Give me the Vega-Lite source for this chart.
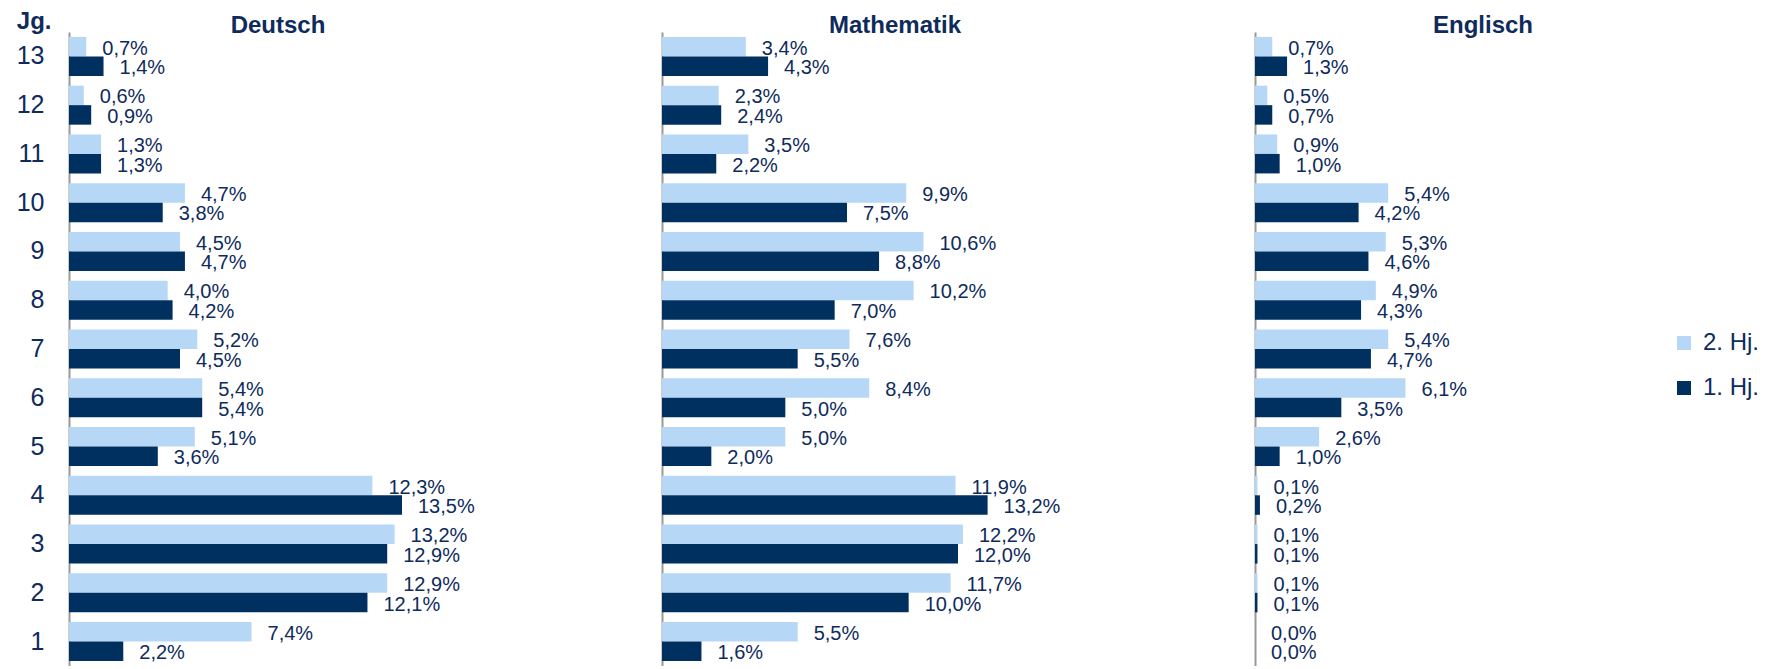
{
  "$schema": "https://vega.github.io/schema/vega-lite/v6.json",
  "padding": {"left": 16, "top": 9, "right": 0, "bottom": 0},
  "background": "white",
  "config": {
    "font": "Liberation Sans",
    "view": {"stroke": null},
    "locale": {"number": {"decimal": ",", "thousands": ".", "grouping": [3], "currency": ["", " €"]}},
    "title": {"fontSize": 24, "fontWeight": "bold", "color": "#0E2B5C", "baseline": "alphabetic", "offset": -6, "frame": "group"},
    "concat": {"spacing": 149}
  },
  "datasets": {
    "d": [
      {"Fach": "Deutsch", "Jg": 13, "Hj": "2. Hj.", "Anteil": 0.007},
      {"Fach": "Deutsch", "Jg": 13, "Hj": "1. Hj.", "Anteil": 0.014},
      {"Fach": "Deutsch", "Jg": 12, "Hj": "2. Hj.", "Anteil": 0.006},
      {"Fach": "Deutsch", "Jg": 12, "Hj": "1. Hj.", "Anteil": 0.009},
      {"Fach": "Deutsch", "Jg": 11, "Hj": "2. Hj.", "Anteil": 0.013},
      {"Fach": "Deutsch", "Jg": 11, "Hj": "1. Hj.", "Anteil": 0.013},
      {"Fach": "Deutsch", "Jg": 10, "Hj": "2. Hj.", "Anteil": 0.047},
      {"Fach": "Deutsch", "Jg": 10, "Hj": "1. Hj.", "Anteil": 0.038},
      {"Fach": "Deutsch", "Jg": 9, "Hj": "2. Hj.", "Anteil": 0.045},
      {"Fach": "Deutsch", "Jg": 9, "Hj": "1. Hj.", "Anteil": 0.047},
      {"Fach": "Deutsch", "Jg": 8, "Hj": "2. Hj.", "Anteil": 0.040},
      {"Fach": "Deutsch", "Jg": 8, "Hj": "1. Hj.", "Anteil": 0.042},
      {"Fach": "Deutsch", "Jg": 7, "Hj": "2. Hj.", "Anteil": 0.052},
      {"Fach": "Deutsch", "Jg": 7, "Hj": "1. Hj.", "Anteil": 0.045},
      {"Fach": "Deutsch", "Jg": 6, "Hj": "2. Hj.", "Anteil": 0.054},
      {"Fach": "Deutsch", "Jg": 6, "Hj": "1. Hj.", "Anteil": 0.054},
      {"Fach": "Deutsch", "Jg": 5, "Hj": "2. Hj.", "Anteil": 0.051},
      {"Fach": "Deutsch", "Jg": 5, "Hj": "1. Hj.", "Anteil": 0.036},
      {"Fach": "Deutsch", "Jg": 4, "Hj": "2. Hj.", "Anteil": 0.123},
      {"Fach": "Deutsch", "Jg": 4, "Hj": "1. Hj.", "Anteil": 0.135},
      {"Fach": "Deutsch", "Jg": 3, "Hj": "2. Hj.", "Anteil": 0.132},
      {"Fach": "Deutsch", "Jg": 3, "Hj": "1. Hj.", "Anteil": 0.129},
      {"Fach": "Deutsch", "Jg": 2, "Hj": "2. Hj.", "Anteil": 0.129},
      {"Fach": "Deutsch", "Jg": 2, "Hj": "1. Hj.", "Anteil": 0.121},
      {"Fach": "Deutsch", "Jg": 1, "Hj": "2. Hj.", "Anteil": 0.074},
      {"Fach": "Deutsch", "Jg": 1, "Hj": "1. Hj.", "Anteil": 0.022},
      {"Fach": "Mathematik", "Jg": 13, "Hj": "2. Hj.", "Anteil": 0.034},
      {"Fach": "Mathematik", "Jg": 13, "Hj": "1. Hj.", "Anteil": 0.043},
      {"Fach": "Mathematik", "Jg": 12, "Hj": "2. Hj.", "Anteil": 0.023},
      {"Fach": "Mathematik", "Jg": 12, "Hj": "1. Hj.", "Anteil": 0.024},
      {"Fach": "Mathematik", "Jg": 11, "Hj": "2. Hj.", "Anteil": 0.035},
      {"Fach": "Mathematik", "Jg": 11, "Hj": "1. Hj.", "Anteil": 0.022},
      {"Fach": "Mathematik", "Jg": 10, "Hj": "2. Hj.", "Anteil": 0.099},
      {"Fach": "Mathematik", "Jg": 10, "Hj": "1. Hj.", "Anteil": 0.075},
      {"Fach": "Mathematik", "Jg": 9, "Hj": "2. Hj.", "Anteil": 0.106},
      {"Fach": "Mathematik", "Jg": 9, "Hj": "1. Hj.", "Anteil": 0.088},
      {"Fach": "Mathematik", "Jg": 8, "Hj": "2. Hj.", "Anteil": 0.102},
      {"Fach": "Mathematik", "Jg": 8, "Hj": "1. Hj.", "Anteil": 0.070},
      {"Fach": "Mathematik", "Jg": 7, "Hj": "2. Hj.", "Anteil": 0.076},
      {"Fach": "Mathematik", "Jg": 7, "Hj": "1. Hj.", "Anteil": 0.055},
      {"Fach": "Mathematik", "Jg": 6, "Hj": "2. Hj.", "Anteil": 0.084},
      {"Fach": "Mathematik", "Jg": 6, "Hj": "1. Hj.", "Anteil": 0.050},
      {"Fach": "Mathematik", "Jg": 5, "Hj": "2. Hj.", "Anteil": 0.050},
      {"Fach": "Mathematik", "Jg": 5, "Hj": "1. Hj.", "Anteil": 0.020},
      {"Fach": "Mathematik", "Jg": 4, "Hj": "2. Hj.", "Anteil": 0.119},
      {"Fach": "Mathematik", "Jg": 4, "Hj": "1. Hj.", "Anteil": 0.132},
      {"Fach": "Mathematik", "Jg": 3, "Hj": "2. Hj.", "Anteil": 0.122},
      {"Fach": "Mathematik", "Jg": 3, "Hj": "1. Hj.", "Anteil": 0.120},
      {"Fach": "Mathematik", "Jg": 2, "Hj": "2. Hj.", "Anteil": 0.117},
      {"Fach": "Mathematik", "Jg": 2, "Hj": "1. Hj.", "Anteil": 0.100},
      {"Fach": "Mathematik", "Jg": 1, "Hj": "2. Hj.", "Anteil": 0.055},
      {"Fach": "Mathematik", "Jg": 1, "Hj": "1. Hj.", "Anteil": 0.016},
      {"Fach": "Englisch", "Jg": 13, "Hj": "2. Hj.", "Anteil": 0.007},
      {"Fach": "Englisch", "Jg": 13, "Hj": "1. Hj.", "Anteil": 0.013},
      {"Fach": "Englisch", "Jg": 12, "Hj": "2. Hj.", "Anteil": 0.005},
      {"Fach": "Englisch", "Jg": 12, "Hj": "1. Hj.", "Anteil": 0.007},
      {"Fach": "Englisch", "Jg": 11, "Hj": "2. Hj.", "Anteil": 0.009},
      {"Fach": "Englisch", "Jg": 11, "Hj": "1. Hj.", "Anteil": 0.010},
      {"Fach": "Englisch", "Jg": 10, "Hj": "2. Hj.", "Anteil": 0.054},
      {"Fach": "Englisch", "Jg": 10, "Hj": "1. Hj.", "Anteil": 0.042},
      {"Fach": "Englisch", "Jg": 9, "Hj": "2. Hj.", "Anteil": 0.053},
      {"Fach": "Englisch", "Jg": 9, "Hj": "1. Hj.", "Anteil": 0.046},
      {"Fach": "Englisch", "Jg": 8, "Hj": "2. Hj.", "Anteil": 0.049},
      {"Fach": "Englisch", "Jg": 8, "Hj": "1. Hj.", "Anteil": 0.043},
      {"Fach": "Englisch", "Jg": 7, "Hj": "2. Hj.", "Anteil": 0.054},
      {"Fach": "Englisch", "Jg": 7, "Hj": "1. Hj.", "Anteil": 0.047},
      {"Fach": "Englisch", "Jg": 6, "Hj": "2. Hj.", "Anteil": 0.061},
      {"Fach": "Englisch", "Jg": 6, "Hj": "1. Hj.", "Anteil": 0.035},
      {"Fach": "Englisch", "Jg": 5, "Hj": "2. Hj.", "Anteil": 0.026},
      {"Fach": "Englisch", "Jg": 5, "Hj": "1. Hj.", "Anteil": 0.010},
      {"Fach": "Englisch", "Jg": 4, "Hj": "2. Hj.", "Anteil": 0.001},
      {"Fach": "Englisch", "Jg": 4, "Hj": "1. Hj.", "Anteil": 0.002},
      {"Fach": "Englisch", "Jg": 3, "Hj": "2. Hj.", "Anteil": 0.001},
      {"Fach": "Englisch", "Jg": 3, "Hj": "1. Hj.", "Anteil": 0.001},
      {"Fach": "Englisch", "Jg": 2, "Hj": "2. Hj.", "Anteil": 0.001},
      {"Fach": "Englisch", "Jg": 2, "Hj": "1. Hj.", "Anteil": 0.001},
      {"Fach": "Englisch", "Jg": 1, "Hj": "2. Hj.", "Anteil": 0.000},
      {"Fach": "Englisch", "Jg": 1, "Hj": "1. Hj.", "Anteil": 0.000}
    ]
  },
  "data": {"name": "d"},
  "hconcat": [
    {
      "width": 444, "height": 634,
      "title": {"text": "Deutsch", "dx": -13, "dy": 23},
      "transform": [{"filter": "datum.Fach === 'Deutsch'"}],
      "encoding": {
        "y": {"field": "Jg", "type": "ordinal", "sort": "descending",
              "scale": {"paddingInner": 0.2, "paddingOuter": 0.1},
              "axis": {"ticks": false, "labelFontSize": 25, "labelColor": "#0E2B5C", "labelPadding": 25,
                       "domainColor": "#999999", "domainWidth": 2,
                       "title": "Jg.", "titleAngle": 0, "titleFontSize": 24, "titleFontWeight": "bold", "titleColor": "#0E2B5C",
                       "titleAlign": "right", "titleBaseline": "alphabetic", "titleX": -18, "titleY": -4}},
        "yOffset": {"field": "Hj", "type": "nominal", "sort": ["2. Hj.", "1. Hj."], "scale": {"paddingInner": 0, "paddingOuter": 0}},
        "x": {"field": "Anteil", "type": "quantitative", "scale": {"domain": [0, 0.18]}, "axis": null}
      },
      "layer": [
        {"mark": {"type": "bar"},
         "encoding": {"color": {"field": "Hj", "type": "nominal", "scale": {"domain": ["2. Hj.", "1. Hj."], "range": ["#B7D7F7", "#00305F"]},
                                "legend": {"orient": "none", "legendX": 1603, "legendY": 299, "title": null, "symbolType": "square", "symbolSize": 196, "symbolStrokeWidth": 0, "labelFontSize": 24, "labelColor": "#0E2B5C", "labelOffset": 7, "rowPadding": 21}}}},
        {"mark": {"type": "text", "align": "left", "baseline": "middle", "dx": 16, "dy": 2, "fontSize": 20, "color": "#0E2B5C"},
         "encoding": {"text": {"field": "Anteil", "type": "quantitative", "format": ".1%"}}}
      ]
    },
    {
      "width": 444, "height": 634,
      "title": {"text": "Mathematik", "dx": 11},
      "transform": [{"filter": "datum.Fach === 'Mathematik'"}],
      "encoding": {
        "y": {"field": "Jg", "type": "ordinal", "sort": "descending",
              "scale": {"paddingInner": 0.2, "paddingOuter": 0.1},
              "axis": {"ticks": false, "labels": false, "title": null, "domainColor": "#999999", "domainWidth": 2}},
        "yOffset": {"field": "Hj", "type": "nominal", "sort": ["2. Hj.", "1. Hj."], "scale": {"paddingInner": 0, "paddingOuter": 0}},
        "x": {"field": "Anteil", "type": "quantitative", "scale": {"domain": [0, 0.18]}, "axis": null}
      },
      "layer": [
        {"mark": {"type": "bar"},
         "encoding": {"color": {"field": "Hj", "type": "nominal", "scale": {"domain": ["2. Hj.", "1. Hj."], "range": ["#B7D7F7", "#00305F"]}}}},
        {"mark": {"type": "text", "align": "left", "baseline": "middle", "dx": 16, "dy": 2, "fontSize": 20, "color": "#0E2B5C"},
         "encoding": {"text": {"field": "Anteil", "type": "quantitative", "format": ".1%"}}}
      ]
    },
    {
      "width": 444, "height": 634,
      "title": {"text": "Englisch", "dx": 6},
      "transform": [{"filter": "datum.Fach === 'Englisch'"}],
      "encoding": {
        "y": {"field": "Jg", "type": "ordinal", "sort": "descending",
              "scale": {"paddingInner": 0.2, "paddingOuter": 0.1},
              "axis": {"ticks": false, "labels": false, "title": null, "domainColor": "#999999", "domainWidth": 2}},
        "yOffset": {"field": "Hj", "type": "nominal", "sort": ["2. Hj.", "1. Hj."], "scale": {"paddingInner": 0, "paddingOuter": 0}},
        "x": {"field": "Anteil", "type": "quantitative", "scale": {"domain": [0, 0.18]}, "axis": null}
      },
      "layer": [
        {"mark": {"type": "bar"},
         "encoding": {"color": {"field": "Hj", "type": "nominal", "scale": {"domain": ["2. Hj.", "1. Hj."], "range": ["#B7D7F7", "#00305F"]}}}},
        {"mark": {"type": "text", "align": "left", "baseline": "middle", "dx": 16, "dy": 2, "fontSize": 20, "color": "#0E2B5C"},
         "encoding": {"text": {"field": "Anteil", "type": "quantitative", "format": ".1%"}}}
      ]
    }
  ]
}
